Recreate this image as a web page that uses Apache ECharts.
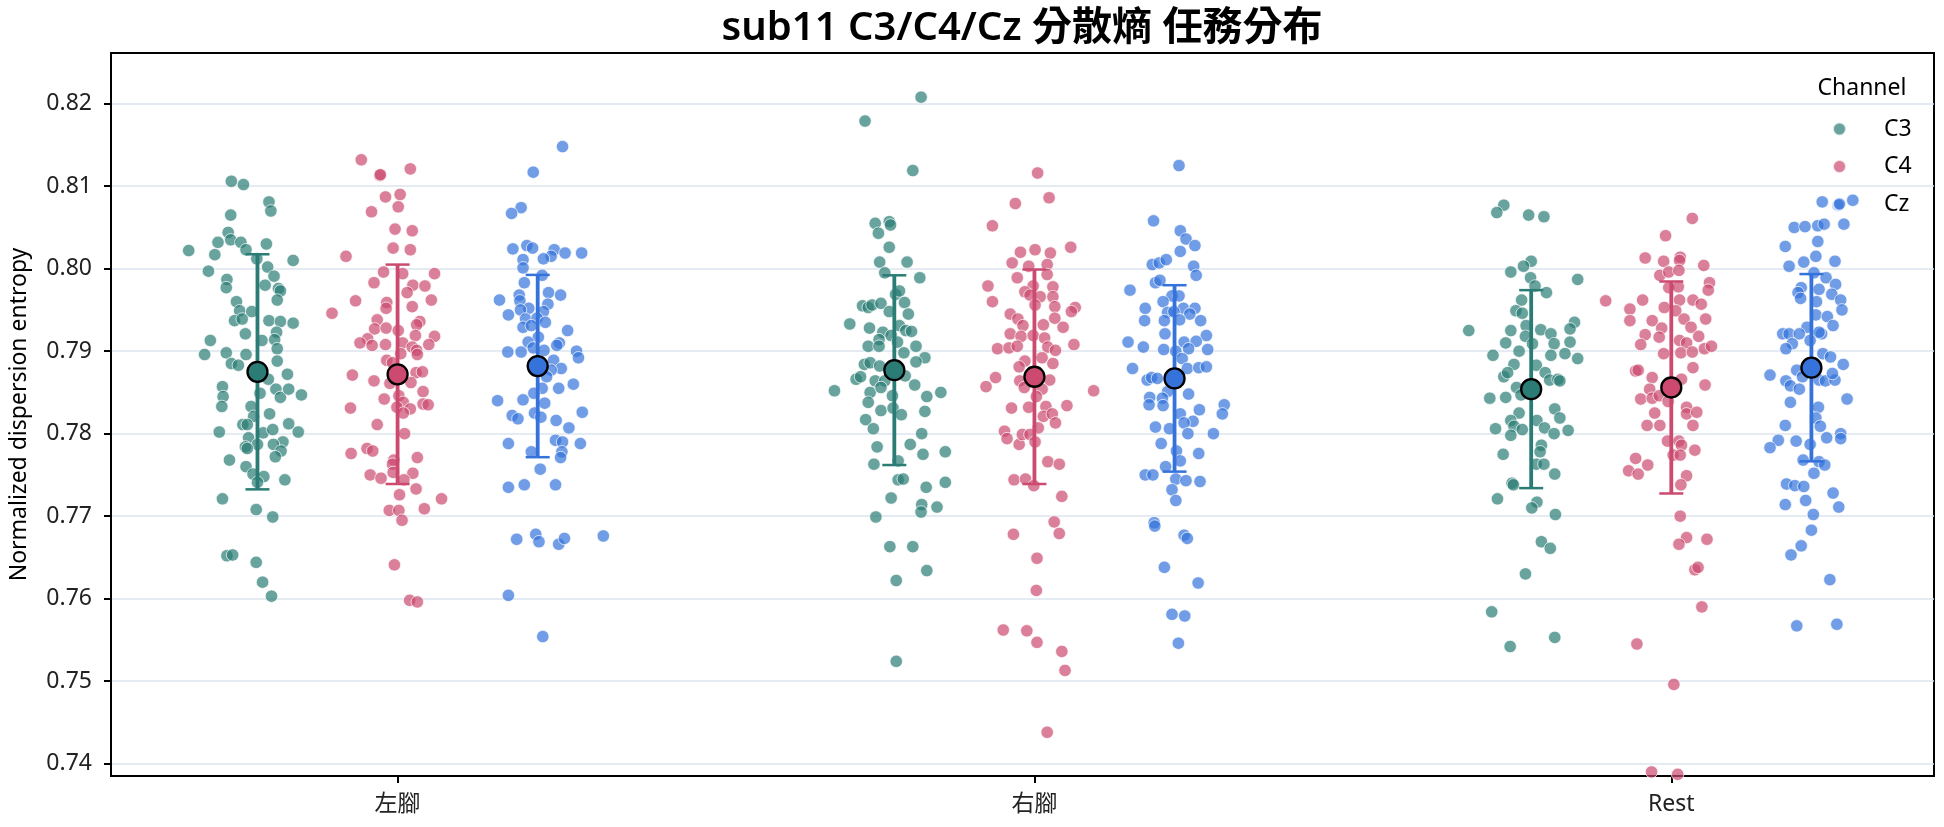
<!DOCTYPE html>
<html>
<head>
<meta charset="utf-8">
<script src="https://cdn.jsdelivr.net/npm/echarts@6/dist/echarts.min.js"></script>
<style>
html,body{margin:0;padding:0;background:#fff;}
#chart{width:1944px;height:827px;}
</style>
</head>
<body>
<div id="chart"></div>
<script>
// ---------------- DATA ----------------
const title = 'sub11 C3/C4/Cz 分散熵 任務分布';
const yAxisName = 'Normalized dispersion entropy';
const categories = ['左腳', '右腳', 'Rest'];
const channels = ['C3', 'C4', 'Cz'];
const yTicks = [0.74, 0.75, 0.76, 0.77, 0.78, 0.79, 0.80, 0.81, 0.82];

// each point: [jitter (category units, relative to channel slot), value]
const C3_left = [[-0.041,0.8106],[-0.022,0.8102],[0.018,0.8081],[0.021,0.8070],[-0.042,0.8065],[-0.046,0.8044],[-0.042,0.8035],[-0.062,0.8032],[-0.026,0.8032],[0.014,0.8030],[-0.108,0.8022],[-0.067,0.8017],[-0.018,0.8023],[-0.001,0.8012],[0.056,0.8010],[0.016,0.8002],[-0.077,0.7997],[0.026,0.7991],[-0.048,0.7987],[-0.049,0.7977],[0.012,0.7980],[0.033,0.7976],[0.036,0.7973],[0.031,0.7962],[-0.033,0.7960],[-0.028,0.7949],[-0.009,0.7948],[-0.036,0.7937],[-0.024,0.7939],[0.018,0.7937],[0.036,0.7936],[0.056,0.7934],[0.030,0.7923],[-0.019,0.7921],[0.007,0.7913],[0.027,0.7914],[-0.074,0.7913],[0.031,0.7903],[-0.083,0.7896],[-0.049,0.7898],[-0.041,0.7885],[-0.030,0.7883],[-0.018,0.7896],[0.031,0.7888],[0.047,0.7872],[0.017,0.7866],[-0.055,0.7857],[0.029,0.7854],[0.036,0.7844],[0.049,0.7854],[0.069,0.7847],[-0.054,0.7845],[-0.056,0.7833],[0.004,0.7849],[-0.010,0.7833],[0.019,0.7824],[-0.006,0.7821],[-0.023,0.7811],[-0.016,0.7811],[-0.060,0.7802],[0.009,0.7801],[0.024,0.7805],[0.049,0.7812],[0.064,0.7802],[-0.014,0.7795],[0.040,0.7790],[0.025,0.7787],[0.000,0.7787],[-0.019,0.7784],[-0.016,0.7782],[0.037,0.7779],[0.028,0.7772],[-0.044,0.7768],[-0.018,0.7760],[-0.007,0.7751],[0.010,0.7748],[0.000,0.7741],[0.043,0.7744],[-0.055,0.7721],[-0.002,0.7708],[0.024,0.7699],[-0.048,0.7652],[-0.039,0.7653],[-0.002,0.7644],[0.008,0.7620],[0.022,0.7603]];

const C4_left = [[-0.057,0.8132],[0.020,0.8121],[-0.028,0.8113],[-0.027,0.8114],[-0.019,0.8087],[0.004,0.8090],[0.001,0.8075],[-0.041,0.8069],[-0.004,0.8048],[0.023,0.8046],[-0.007,0.8025],[0.020,0.8023],[-0.081,0.8015],[-0.022,0.7996],[0.008,0.7994],[0.058,0.7994],[-0.037,0.7983],[0.024,0.7980],[0.043,0.7979],[0.015,0.7971],[-0.066,0.7961],[0.053,0.7962],[-0.017,0.7959],[0.023,0.7954],[-0.103,0.7946],[-0.018,0.7952],[-0.032,0.7938],[0.035,0.7936],[0.030,0.7932],[-0.036,0.7927],[-0.018,0.7928],[0.001,0.7925],[-0.047,0.7915],[-0.059,0.7910],[0.028,0.7919],[0.058,0.7918],[-0.040,0.7907],[-0.019,0.7908],[0.008,0.7910],[0.023,0.7905],[0.030,0.7901],[0.049,0.7908],[0.031,0.7896],[0.005,0.7897],[-0.017,0.7889],[-0.008,0.7886],[-0.071,0.7871],[0.029,0.7874],[0.039,0.7875],[-0.037,0.7864],[-0.012,0.7861],[0.021,0.7862],[0.040,0.7851],[-0.021,0.7842],[0.002,0.7846],[0.009,0.7838],[-0.001,0.7832],[0.020,0.7830],[0.040,0.7836],[0.048,0.7835],[-0.074,0.7831],[0.009,0.7825],[-0.032,0.7811],[0.011,0.7800],[-0.073,0.7776],[-0.048,0.7782],[-0.039,0.7779],[0.031,0.7771],[-0.006,0.7768],[-0.008,0.7763],[-0.043,0.7750],[-0.026,0.7746],[-0.007,0.7753],[0.024,0.7752],[0.010,0.7744],[0.029,0.7733],[0.003,0.7726],[0.069,0.7721],[0.042,0.7709],[-0.013,0.7707],[0.002,0.7707],[0.007,0.7695],[-0.005,0.7641],[0.019,0.7598],[0.031,0.7596]];

const Cz_left = [[0.039,0.8148],[-0.007,0.8117],[-0.026,0.8074],[-0.041,0.8067],[-0.039,0.8024],[-0.017,0.8028],[-0.008,0.8025],[0.026,0.8023],[0.021,0.8015],[0.043,0.8019],[0.069,0.8019],[-0.023,0.8011],[0.009,0.8012],[-0.023,0.8001],[0.007,0.7992],[-0.021,0.7983],[-0.060,0.7962],[-0.029,0.7968],[0.017,0.7971],[0.036,0.7968],[-0.028,0.7961],[0.016,0.7957],[-0.046,0.7944],[-0.014,0.7952],[-0.027,0.7950],[0.009,0.7948],[-0.019,0.7939],[-0.001,0.7940],[0.012,0.7935],[-0.023,0.7929],[-0.010,0.7931],[0.047,0.7925],[0.001,0.7917],[0.034,0.7910],[0.030,0.7907],[-0.015,0.7911],[-0.047,0.7899],[-0.026,0.7899],[-0.007,0.7904],[0.010,0.7901],[0.061,0.7900],[0.064,0.7892],[0.025,0.7889],[0.037,0.7879],[0.021,0.7877],[0.014,0.7869],[0.007,0.7855],[-0.006,0.7849],[0.033,0.7855],[0.056,0.7860],[-0.063,0.7840],[-0.023,0.7841],[0.011,0.7837],[-0.040,0.7822],[-0.031,0.7818],[-0.005,0.7825],[0.005,0.7820],[0.070,0.7826],[0.029,0.7816],[0.049,0.7807],[-0.046,0.7788],[0.028,0.7792],[0.039,0.7790],[0.067,0.7788],[-0.010,0.7778],[0.038,0.7778],[0.036,0.7771],[0.004,0.7757],[-0.046,0.7735],[-0.021,0.7738],[0.028,0.7738],[-0.033,0.7672],[-0.003,0.7678],[0.002,0.7669],[0.033,0.7666],[0.042,0.7673],[0.103,0.7676],[-0.046,0.7604],[0.008,0.7554]];

const C3_right = [[0.042,0.8208],[-0.046,0.8179],[0.029,0.8119],[-0.030,0.8055],[-0.008,0.8057],[-0.006,0.8053],[-0.025,0.8043],[-0.008,0.8026],[-0.023,0.8008],[0.020,0.8008],[-0.015,0.7995],[0.040,0.7989],[0.002,0.7969],[0.008,0.7973],[-0.050,0.7955],[-0.041,0.7953],[-0.035,0.7956],[-0.021,0.7958],[0.016,0.7959],[-0.008,0.7948],[0.022,0.7945],[-0.070,0.7933],[-0.039,0.7928],[0.008,0.7931],[0.018,0.7925],[0.027,0.7924],[-0.018,0.7923],[-0.005,0.7919],[-0.024,0.7914],[-0.041,0.7906],[-0.024,0.7906],[0.005,0.7911],[0.034,0.7906],[0.015,0.7898],[0.048,0.7892],[0.034,0.7887],[-0.047,0.7884],[-0.038,0.7886],[-0.023,0.7882],[-0.060,0.7866],[-0.053,0.7869],[-0.030,0.7864],[-0.015,0.7864],[0.017,0.7870],[-0.094,0.7852],[-0.038,0.7850],[-0.021,0.7856],[0.032,0.7859],[0.051,0.7845],[0.073,0.7850],[-0.041,0.7838],[-0.003,0.7846],[-0.021,0.7828],[-0.002,0.7831],[0.011,0.7823],[0.048,0.7827],[-0.045,0.7817],[-0.033,0.7806],[0.043,0.7800],[-0.027,0.7784],[0.025,0.7787],[0.045,0.7775],[0.080,0.7778],[-0.032,0.7763],[0.006,0.7767],[0.006,0.7744],[0.014,0.7745],[0.080,0.7741],[0.050,0.7735],[-0.005,0.7722],[0.043,0.7714],[0.042,0.7705],[0.067,0.7711],[-0.029,0.7699],[-0.007,0.7663],[0.029,0.7663],[0.051,0.7634],[0.003,0.7622],[0.003,0.7524]];

const C4_right = [[0.005,0.8116],[-0.030,0.8079],[0.023,0.8086],[-0.066,0.8052],[-0.022,0.8020],[0.001,0.8023],[0.025,0.8019],[0.057,0.8026],[-0.035,0.8007],[-0.009,0.8003],[0.020,0.8005],[-0.027,0.7989],[0.020,0.7993],[-0.073,0.7979],[-0.002,0.7979],[0.029,0.7978],[-0.015,0.7972],[-0.007,0.7968],[0.009,0.7966],[-0.066,0.7960],[0.029,0.7966],[0.001,0.7956],[0.032,0.7954],[0.064,0.7953],[0.058,0.7948],[-0.038,0.7945],[-0.026,0.7939],[-0.018,0.7931],[0.014,0.7932],[0.032,0.7940],[0.045,0.7929],[-0.038,0.7921],[-0.021,0.7918],[-0.002,0.7919],[0.016,0.7916],[0.062,0.7908],[-0.058,0.7903],[-0.040,0.7904],[-0.027,0.7906],[0.021,0.7905],[0.033,0.7901],[0.012,0.7892],[-0.015,0.7888],[0.029,0.7885],[-0.024,0.7881],[-0.061,0.7868],[-0.076,0.7857],[-0.023,0.7864],[0.024,0.7865],[-0.016,0.7856],[0.012,0.7854],[0.093,0.7852],[0.003,0.7845],[-0.036,0.7831],[-0.009,0.7832],[0.051,0.7834],[0.018,0.7833],[0.014,0.7821],[0.028,0.7824],[0.033,0.7813],[0.006,0.7807],[-0.047,0.7803],[-0.043,0.7794],[-0.024,0.7787],[-0.019,0.7799],[-0.007,0.7799],[0.001,0.7790],[0.021,0.7766],[0.039,0.7763],[-0.032,0.7744],[-0.014,0.7745],[-0.001,0.7737],[0.043,0.7724],[0.031,0.7693],[0.039,0.7679],[-0.033,0.7678],[0.004,0.7649],[0.003,0.7610],[-0.049,0.7562],[-0.012,0.7561],[0.004,0.7547],[0.043,0.7536],[0.048,0.7513],[0.020,0.7438]];

const Cz_right = [[0.007,0.8125],[-0.033,0.8058],[0.009,0.8046],[0.018,0.8036],[0.032,0.8028],[0.009,0.8021],[-0.035,0.8005],[-0.024,0.8007],[-0.013,0.8011],[0.030,0.8003],[0.034,0.7992],[-0.030,0.7983],[-0.023,0.7986],[-0.070,0.7974],[-0.004,0.7967],[0.007,0.7967],[-0.018,0.7960],[0.014,0.7952],[0.032,0.7952],[-0.046,0.7952],[-0.011,0.7947],[-0.001,0.7948],[0.024,0.7945],[-0.047,0.7937],[-0.016,0.7937],[0.008,0.7938],[0.041,0.7937],[-0.015,0.7921],[0.050,0.7919],[-0.073,0.7911],[0.015,0.7911],[0.034,0.7912],[-0.049,0.7905],[-0.017,0.7902],[0.002,0.7900],[0.022,0.7903],[0.052,0.7902],[0.012,0.7891],[-0.066,0.7879],[0.020,0.7879],[0.038,0.7880],[0.050,0.7881],[-0.043,0.7865],[-0.036,0.7868],[-0.027,0.7867],[-0.011,0.7851],[0.022,0.7848],[-0.039,0.7844],[-0.019,0.7843],[-0.040,0.7835],[-0.018,0.7834],[0.078,0.7835],[0.039,0.7829],[0.075,0.7824],[0.009,0.7824],[0.029,0.7815],[0.015,0.7813],[-0.030,0.7808],[-0.008,0.7806],[0.021,0.7800],[0.061,0.7800],[-0.021,0.7788],[0.038,0.7776],[0.003,0.7779],[0.009,0.7767],[-0.014,0.7760],[-0.046,0.7750],[-0.034,0.7750],[0.002,0.7745],[0.018,0.7743],[0.040,0.7742],[-0.004,0.7732],[0.002,0.7719],[-0.032,0.7692],[-0.031,0.7688],[0.015,0.7677],[0.020,0.7673],[-0.016,0.7638],[0.037,0.7619],[-0.004,0.7581],[0.016,0.7579],[0.006,0.7546]];

const C3_rest = [[-0.043,0.8077],[-0.054,0.8068],[-0.004,0.8065],[0.020,0.8063],[0.000,0.8009],[-0.012,0.8003],[-0.032,0.7996],[0.073,0.7987],[-0.001,0.7989],[0.006,0.7979],[0.024,0.7971],[-0.015,0.7962],[-0.024,0.7949],[-0.014,0.7946],[-0.098,0.7925],[-0.032,0.7925],[-0.008,0.7931],[0.015,0.7926],[0.068,0.7935],[0.061,0.7927],[0.031,0.7921],[-0.009,0.7918],[-0.040,0.7910],[0.002,0.7909],[0.036,0.7909],[0.061,0.7911],[-0.019,0.7900],[-0.060,0.7895],[0.031,0.7895],[0.053,0.7897],[0.073,0.7891],[-0.027,0.7884],[0.008,0.7883],[-0.043,0.7869],[-0.037,0.7874],[0.022,0.7874],[0.029,0.7865],[0.042,0.7866],[0.045,0.7864],[-0.023,0.7856],[-0.065,0.7843],[-0.040,0.7844],[-0.016,0.7847],[0.037,0.7830],[-0.019,0.7825],[0.045,0.7819],[-0.032,0.7816],[-0.027,0.7809],[0.009,0.7816],[-0.056,0.7806],[-0.014,0.7805],[0.021,0.7807],[0.036,0.7800],[0.058,0.7804],[-0.032,0.7798],[0.016,0.7786],[0.014,0.7778],[-0.044,0.7775],[0.008,0.7763],[0.020,0.7763],[0.037,0.7751],[-0.030,0.7740],[-0.028,0.7738],[-0.053,0.7721],[0.009,0.7717],[0.001,0.7710],[0.038,0.7702],[0.016,0.7669],[0.030,0.7661],[-0.009,0.7630],[-0.062,0.7584],[0.037,0.7553],[-0.033,0.7542]];

const C4_rest = [[0.033,0.8061],[-0.009,0.8040],[-0.041,0.8013],[-0.012,0.8009],[0.014,0.8014],[0.013,0.8010],[0.051,0.8004],[-0.018,0.7992],[-0.004,0.7996],[0.012,0.7998],[0.060,0.7983],[0.058,0.7974],[-0.004,0.7977],[0.011,0.7978],[-0.103,0.7961],[-0.045,0.7962],[0.013,0.7962],[0.034,0.7962],[0.047,0.7957],[-0.065,0.7951],[-0.011,0.7953],[0.007,0.7949],[-0.065,0.7937],[-0.030,0.7937],[0.020,0.7939],[0.054,0.7939],[-0.015,0.7928],[0.031,0.7929],[-0.041,0.7920],[-0.019,0.7917],[0.013,0.7913],[0.024,0.7910],[0.043,0.7918],[-0.048,0.7908],[0.052,0.7903],[0.063,0.7906],[-0.012,0.7897],[0.015,0.7898],[0.033,0.7899],[0.034,0.7880],[-0.056,0.7876],[-0.052,0.7877],[-0.030,0.7868],[0.016,0.7866],[0.053,0.7859],[-0.034,0.7854],[-0.048,0.7842],[-0.030,0.7843],[-0.019,0.7846],[-0.005,0.7839],[0.024,0.7832],[-0.026,0.7825],[0.024,0.7824],[0.040,0.7826],[-0.038,0.7810],[-0.018,0.7810],[0.034,0.7810],[-0.006,0.7791],[0.012,0.7791],[0.016,0.7786],[0.037,0.7780],[0.003,0.7774],[0.014,0.7774],[-0.056,0.7770],[-0.067,0.7755],[-0.052,0.7751],[-0.037,0.7762],[0.024,0.7749],[0.015,0.7738],[0.014,0.7700],[0.024,0.7674],[0.012,0.7666],[0.056,0.7672],[0.037,0.7635],[0.042,0.7638],[0.048,0.7590],[-0.054,0.7545],[0.004,0.7496],[-0.031,0.7390],[0.010,0.7387]];

const Cz_rest = [[0.017,0.8081],[0.042,0.8077],[0.065,0.8083],[-0.027,0.8050],[-0.010,0.8051],[0.010,0.8052],[0.020,0.8054],[0.051,0.8054],[-0.041,0.8027],[0.010,0.8033],[0.007,0.8015],[-0.035,0.8003],[-0.012,0.8008],[0.037,0.8009],[0.004,0.7995],[0.023,0.7989],[0.038,0.7981],[-0.016,0.7977],[-0.021,0.7971],[-0.017,0.7964],[0.012,0.7975],[0.032,0.7969],[0.046,0.7962],[0.008,0.7960],[0.048,0.7950],[0.007,0.7944],[0.025,0.7942],[0.034,0.7931],[-0.007,0.7929],[-0.045,0.7921],[-0.035,0.7921],[-0.019,0.7921],[0.016,0.7921],[0.012,0.7923],[-0.030,0.7909],[-0.040,0.7903],[-0.002,0.7913],[0.018,0.7897],[0.030,0.7893],[0.050,0.7884],[-0.065,0.7871],[-0.023,0.7877],[-0.014,0.7869],[-0.040,0.7864],[-0.033,0.7858],[-0.019,0.7854],[0.012,0.7865],[0.022,0.7864],[0.037,0.7865],[0.033,0.7873],[-0.033,0.7838],[0.056,0.7842],[0.011,0.7832],[0.007,0.7819],[0.014,0.7809],[-0.041,0.7810],[-0.052,0.7792],[-0.065,0.7783],[-0.024,0.7791],[-0.002,0.7787],[0.024,0.7795],[0.046,0.7800],[0.046,0.7794],[-0.013,0.7768],[0.012,0.7766],[0.021,0.7762],[0.004,0.7752],[-0.039,0.7739],[-0.026,0.7737],[-0.012,0.7736],[0.034,0.7728],[-0.041,0.7714],[-0.009,0.7719],[0.043,0.7711],[0.003,0.7702],[0.000,0.7683],[-0.016,0.7664],[-0.032,0.7653],[0.029,0.7623],[-0.023,0.7567],[0.040,0.7569]];

// mean and standard deviation per channel, in category order
const C3_mean = [0.7875, 0.7877, 0.7854];
const C4_mean = [0.7872, 0.7869, 0.7856];
const Cz_mean = [0.7882, 0.7867, 0.7880];
const C3_sd = [0.01425, 0.0115, 0.0120];
const C4_sd = [0.0133, 0.0130, 0.01285];
const Cz_sd = [0.01105, 0.0113, 0.01135];

// ---------------- CHART ----------------
const FONT = "'Noto Sans', 'Noto Sans CJK TC', sans-serif";
const colors = {C3: '#2a7c74', C4: '#cc4a6f', Cz: '#3573db'};
const dodge = {C3: -0.22, C4: 0, Cz: 0.22};
const points = {C3: [C3_left, C3_right, C3_rest], C4: [C4_left, C4_right, C4_rest], Cz: [Cz_left, Cz_right, Cz_rest]};
const means = {C3: C3_mean, C4: C4_mean, Cz: Cz_mean};
const sds = {C3: C3_sd, C4: C4_sd, Cz: Cz_sd};

const series = [];
channels.forEach(ch => {
  const data = [];
  points[ch].forEach((grp, ci) => grp.forEach(p => data.push([ci + dodge[ch] + p[0], p[1]])));
  series.push({
    name: ch, type: 'scatter', data: data, symbol: 'circle', symbolSize: 12.5, z: 2,
    itemStyle: {color: colors[ch], opacity: 0.7, borderColor: '#ffffff', borderWidth: 1},
    emphasis: {disabled: true}, silent: true
  });
});
channels.forEach(ch => {
  const eb = means[ch].map((m, ci) => [ci + dodge[ch], m - sds[ch][ci], m + sds[ch][ci]]);
  series.push({
    name: ch + ' sd', type: 'custom', data: eb, z: 5, silent: true,
    renderItem: function (params, api) {
      const x = api.value(0);
      const lo = api.coord([x, api.value(1)]);
      const hi = api.coord([x, api.value(2)]);
      const cap = 12;
      const st = {stroke: colors[ch], lineWidth: 3.8};
      const cs = {stroke: colors[ch], lineWidth: 2.5};
      return {type: 'group', children: [
        {type: 'line', shape: {x1: lo[0], y1: lo[1], x2: hi[0], y2: hi[1]}, style: st},
        {type: 'line', shape: {x1: lo[0] - cap, y1: lo[1], x2: lo[0] + cap, y2: lo[1]}, style: cs},
        {type: 'line', shape: {x1: hi[0] - cap, y1: hi[1], x2: hi[0] + cap, y2: hi[1]}, style: cs}
      ]};
    }
  });
  series.push({
    name: ch + ' mean', type: 'scatter', z: 6, silent: true,
    data: means[ch].map((m, ci) => [ci + dodge[ch], m]),
    symbol: 'circle', symbolSize: 20,
    itemStyle: {color: colors[ch], opacity: 1, borderColor: '#000000', borderWidth: 2.3}
  });
});

const chart = echarts.init(document.getElementById('chart'), null, {renderer: 'canvas'});
chart.setOption({
  animation: false,
  backgroundColor: '#ffffff',
  textStyle: {fontFamily: FONT},
  grid: {left: 110, right: 10, top: 53, bottom: 51, show: true, borderColor: '#000', borderWidth: 2, backgroundColor: 'transparent'},
  graphic: [
    {type: 'text', x: 1022, y: 29, style: {text: title, font: "600 40px " + FONT, fill: '#000', align: 'center', verticalAlign: 'middle'}},
    {type: 'text', x: 1862, y: 88, style: {text: 'Channel', font: "23px " + FONT, fill: '#000', align: 'center', verticalAlign: 'middle'}}
  ],
  legend: {
    data: channels, orient: 'vertical', left: 1827, top: 111,
    itemWidth: 13, itemHeight: 13, itemGap: 11.5, selectedMode: false,
    textStyle: {fontSize: 23, color: '#000', fontFamily: FONT, padding: [0, 0, 0, 33], lineHeight: 26}
  },
  xAxis: {
    type: 'value', min: -0.45, max: 2.4125,
    axisLine: {show: true, onZero: false, lineStyle: {color: '#000', width: 2}},
    axisTick: {show: true, length: 7, lineStyle: {color: '#000', width: 2}, customValues: [0, 1, 2]},
    axisLabel: {customValues: [0, 1, 2], formatter: v => categories[Math.round(v)], fontSize: 23, color: '#222', margin: 17, fontFamily: FONT},
    splitLine: {show: false}
  },
  yAxis: {
    type: 'value', min: 0.7385, max: 0.82615,
    name: yAxisName, nameLocation: 'middle', nameRotate: 90, nameGap: 80,
    nameTextStyle: {fontSize: 23, color: '#000', fontFamily: FONT},
    axisLine: {show: true, onZero: false, lineStyle: {color: '#000', width: 2}},
    axisTick: {show: true, length: 7, lineStyle: {color: '#000', width: 2}, customValues: yTicks},
    axisLabel: {customValues: yTicks, formatter: v => v.toFixed(2), fontSize: 23, color: '#222', margin: 19, fontFamily: FONT},
    splitLine: {show: true, lineStyle: {color: '#dde5ee', width: 1.5}}
  },
  series: series
});
</script>
</body>
</html>
